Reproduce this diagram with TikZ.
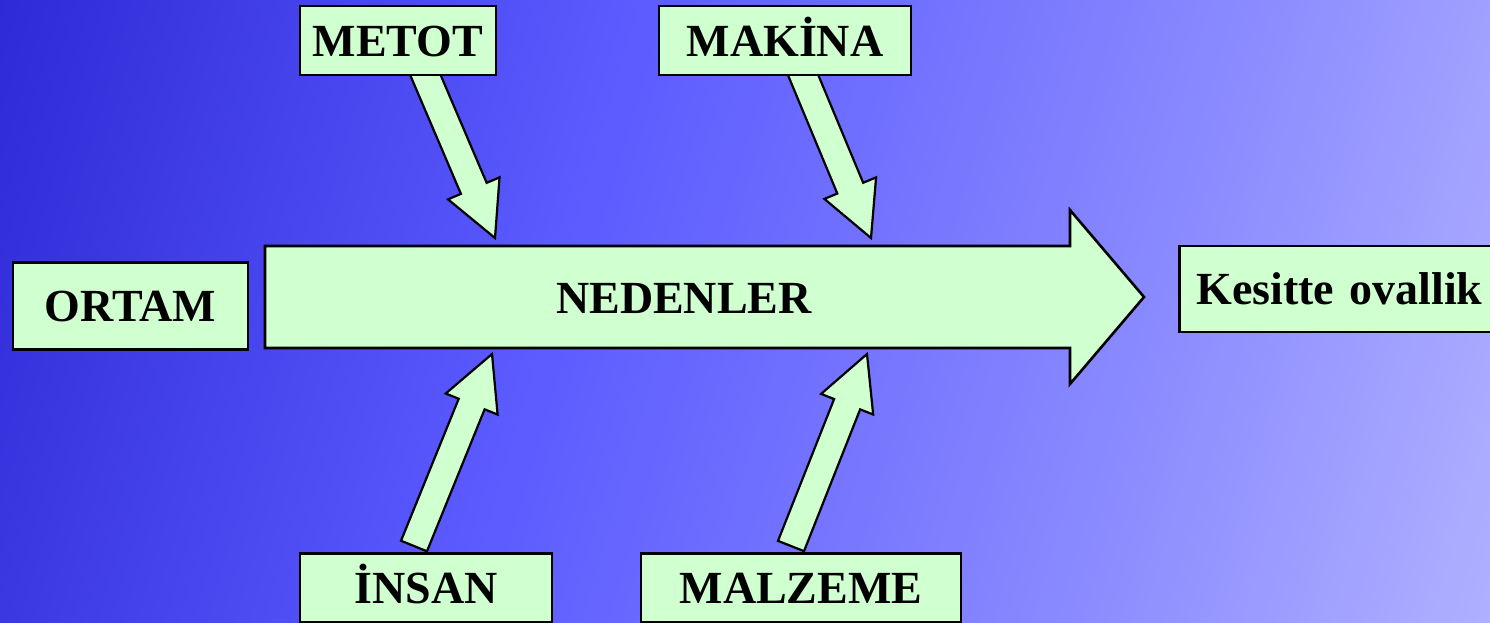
\documentclass[tikz,border=0pt]{standalone}
\usepackage{fontspec}
\setmainfont{Liberation Serif}
\usetikzlibrary{calc}
\definecolor{boxfill}{RGB}{208,255,208}
\definecolor{bga}{RGB}{176,176,255}
\definecolor{bgb}{RGB}{142,142,255}
\definecolor{bgc}{RGB}{106,106,255}
\definecolor{bgd}{RGB}{90,90,255}
\definecolor{bge}{RGB}{46,42,214}
\pgfdeclareverticalshading{bgshade}{100bp}{color(0bp)=(bga); color(19bp)=(bga); color(33bp)=(bgb); color(50bp)=(bgc); color(58bp)=(bgd); color(81bp)=(bge); color(100bp)=(bge)}
\newcommand\blockarr[2]{%
  \coordinate (hb) at ($(#2)!54pt!(#1)$);
  \draw[blk] ($(#1)!14pt!90:(#2)$) -- ($(hb)!14pt!90:(#2)$) -- ($(hb)!28pt!90:(#2)$) -- (#2)
    -- ($(hb)!28pt!-90:(#2)$) -- ($(hb)!14pt!-90:(#2)$) -- ($(#1)!14pt!-90:(#2)$) -- cycle;
}
\begin{document}
\begin{tikzpicture}[x=1pt,y=-1pt,
  lbl/.style={font=\fontsize{46}{50}\selectfont\bfseries, text height=31pt, text depth=0pt},
  box/.style={lbl, draw=black, line width=2.6pt, fill=boxfill, rectangle, inner sep=0pt},
  blk/.style={draw=black, line width=2.2pt, fill=boxfill, line join=miter}]
\useasboundingbox (0,0) rectangle (1490,622);
\clip (0,0) rectangle (1490,622);
\shade[shading=bgshade, shading angle=73.9] (0,0) rectangle (1490,622);
% tails and tips of the cause arrows
\coordinate (metotT) at (413,46);  \coordinate (metotP) at (495,238);
\coordinate (makinaT) at (791,46); \coordinate (makinaP) at (871,238);
\coordinate (insanT) at (414,546); \coordinate (insanP) at (492,354);
\coordinate (malzT) at (791,546);  \coordinate (malzP) at (867,354);
\blockarr{metotT}{metotP}
\blockarr{makinaT}{makinaP}
\blockarr{insanT}{insanP}
\blockarr{malzT}{malzP}
% boxes
\node[box, minimum width=196pt, minimum height=69pt] (metot) at (398,40.5) {METOT};
\node[box, minimum width=252pt, minimum height=69pt] (makina) at (785,40.5) {MAKİNA};
\node[box, minimum width=235pt, minimum height=87pt] (ortam) at (130.5,306) {ORTAM};
\node[box, minimum width=252pt, minimum height=69pt] (insan) at (426,588) {İNSAN};
\node[box, minimum width=320pt, minimum height=69pt] (malzeme) at (801,588) {MALZEME};
\node[box, anchor=west, minimum height=86pt, text width=300pt, align=left, inner xsep=17pt] (kesit) at (1178,289) {Kesitte ovallik};
% main arrow
\draw[blk, line width=2.6pt] (265,246) -- (1070,246) -- (1070,210) -- (1144,297) -- (1070,384) -- (1070,348) -- (265,348) -- cycle;
\node[lbl] (ned) at (684,298) {NEDENLER};
\end{tikzpicture}
\end{document}
